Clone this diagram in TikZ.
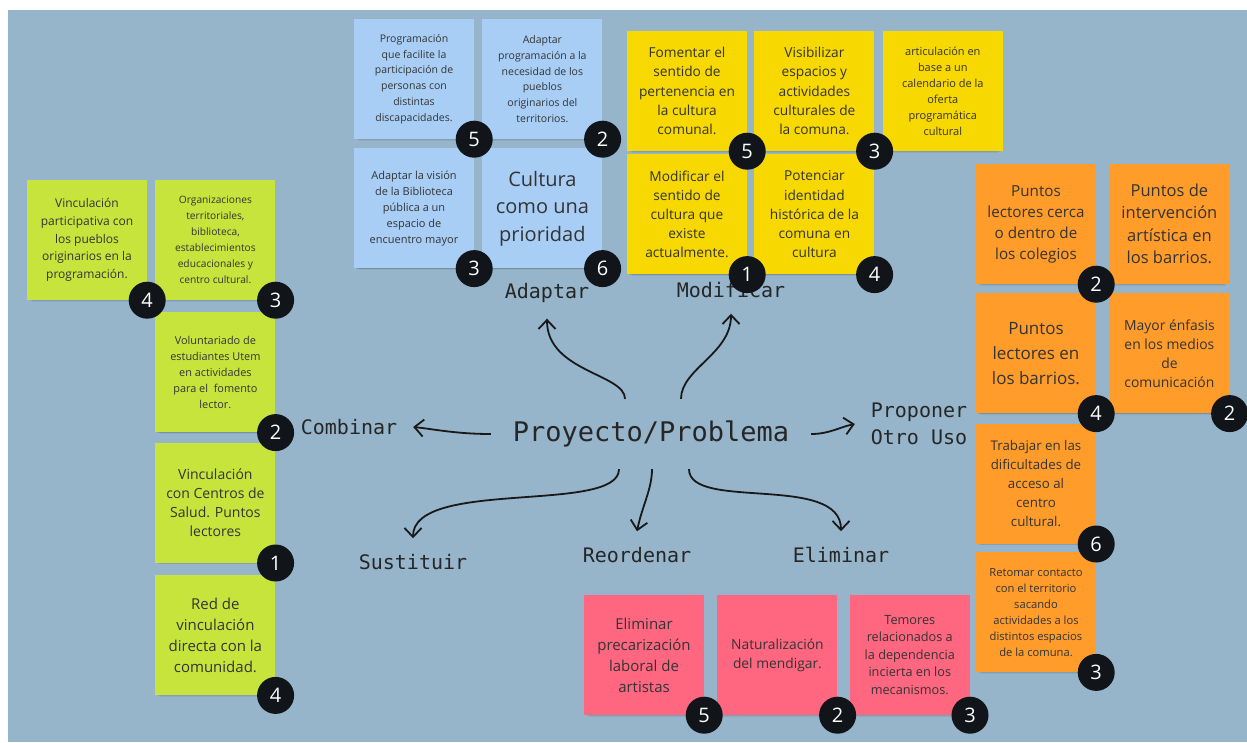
\documentclass[tikz,border=0pt]{standalone}
\usepackage{fontspec}
\setmainfont{Open Sans}
\newfontfamily\monofont{DejaVu Sans Mono}
\usepackage{xcolor}
\usepackage{tikz}
\usetikzlibrary{positioning, arrows.meta, shadows}
\definecolor{BoardBlue}{RGB}{150,181,202}
\definecolor{NoteBlue}{RGB}{168,206,246}
\definecolor{NoteYellow}{RGB}{247,216,0}
\definecolor{NoteGreen}{RGB}{199,228,60}
\definecolor{NoteOrange}{RGB}{255,156,42}
\definecolor{NotePink}{RGB}{255,102,128}
\definecolor{NoteText}{RGB}{52,52,52}
\definecolor{BadgeBlack}{RGB}{17,20,24}
\newcommand{\fsz}[2]{\fontsize{#1}{#2}\selectfont}
\tikzset{
    note/.style={
        minimum width=120pt, minimum height=120pt, inner sep=2pt, align=center, text=NoteText,
        drop shadow={shadow xshift=0pt, shadow yshift=-2pt, shadow scale=0.97, opacity=0.08, fill=black},
        drop shadow={shadow xshift=0pt, shadow yshift=-4pt, shadow scale=0.95, opacity=0.07, fill=black},
        drop shadow={shadow xshift=0pt, shadow yshift=-7pt, shadow scale=0.92, opacity=0.06, fill=black}
    },
    badge/.style={
        circle, fill=BadgeBlack, text=white, minimum size=37pt, inner sep=0pt, font=\fsz{20}{20}
    },
    verb/.style={
        font=\monofont\fsz{20}{27}, text=black!85, inner sep=0pt, outer sep=16pt, align=left
    },
    ptr/.style={
        -{Straight Barb[length=9pt, width=17pt]}, line width=1.8pt, black!90
    }
}

\begin{document}
\begin{tikzpicture}[x=1pt, y=-1pt]
    \useasboundingbox (0,0) rectangle (1247,742);
    \fill[white] (0,0) rectangle (1247,742);
    \fill[BoardBlue] (8,10) rectangle (1247,742);

    % adaptar
    \node[note, fill=NoteBlue, font=\fsz{10.5}{15.8}] (b1) at (414,79) {Programación\\que facilite la\\participación de\\personas con\\distintas\\discapacidades.};
    \node[note, fill=NoteBlue, font=\fsz{10.5}{15.8}, right=8pt of b1] (b2) {Adaptar\\programación a la\\necesidad de los\\pueblos\\originarios del\\territorios.};
    \node[note, fill=NoteBlue, font=\fsz{11}{16}, below=9pt of b1] (b3) {Adaptar la visión\\de la Biblioteca\\pública a un\\espacio de\\encuentro mayor};
    \node[note, fill=NoteBlue, font=\fsz{20}{27.5}, right=8pt of b3] (b4) {Cultura\\como una\\prioridad};

    % modificar
    \node[note, fill=NoteYellow, font=\fsz{13.7}{19.2}] (y1) at (687,91) {Fomentar el\\sentido de\\pertenencia en\\la cultura\\comunal.};
    \node[note, fill=NoteYellow, font=\fsz{13.7}{19.2}, right=7pt of y1] (y2) {Visibilizar\\espacios y\\actividades\\culturales de\\la comuna.};
    \node[note, fill=NoteYellow, font=\fsz{11}{16}, right=8pt of y2] (y3) {articulación en\\base a un\\calendario de la\\oferta\\programática\\cultural};
    \node[note, fill=NoteYellow, font=\fsz{13.7}{19.2}, below=3pt of y1] (y4) {Modificar el\\sentido de\\cultura que\\existe\\actualmente.};
    \node[note, fill=NoteYellow, font=\fsz{13.7}{19.2}, right=7pt of y4] (y5) {Potenciar\\identidad\\histórica de la\\comuna en\\cultura};

    % combinar
    \node[note, fill=NoteGreen, font=\fsz{12}{17.7}] (g1) at (87,240) {Vinculación\\participativa con\\los pueblos\\originarios en la\\programación.};
    \node[note, fill=NoteGreen, font=\fsz{10.2}{16}, right=8pt of g1] (g2) {Organizaciones\\territoriales,\\biblioteca,\\establecimientos\\educacionales y\\centro cultural.};
    \node[note, fill=NoteGreen, font=\fsz{10.9}{16}, below=12pt of g2] (g3) {Voluntariado de\\estudiantes Utem\\en actividades\\para el\ \ fomento\\lector.};
    \node[note, fill=NoteGreen, font=\fsz{14}{19}, below=10pt of g3] (g4) {Vinculación\\con Centros de\\Salud. Puntos\\lectores};
    \node[note, fill=NoteGreen, font=\fsz{15}{21}, below=12pt of g4] (g5) {Red de\\vinculación\\directa con la\\comunidad.};

    % proponer otro uso
    \node[note, fill=NoteOrange, font=\fsz{15.2}{21}] (o1) at (1036,224) {Puntos\\lectores cerca\\o dentro de\\los colegios};
    \node[note, fill=NoteOrange, font=\fsz{16.5}{22.5}, right=13pt of o1] (o2) {Puntos de\\intervención\\artística en\\los barrios.};
    \node[note, fill=NoteOrange, font=\fsz{17}{25}, below=9pt of o1] (o3) {Puntos\\lectores en\\los barrios.};
    \node[note, fill=NoteOrange, font=\fsz{13.9}{19}, right=13pt of o3] (o4) {Mayor énfasis\\en los medios\\de\\comunicación};
    \node[note, fill=NoteOrange, font=\fsz{13.3}{19}, below=10pt of o3] (o5) {Trabajar en las\\dificultades de\\acceso al\\centro\\cultural.};
    \node[note, fill=NoteOrange, font=\fsz{11.2}{16}, below=8pt of o5] (o6) {Retomar contacto\\con el territorio\\sacando\\actividades a los\\distintos espacios\\de la comuna.};

    % eliminar
    \node[note, fill=NotePink, font=\fsz{15}{21}] (p1) at (644,655) {Eliminar\\precarización\\laboral de\\artistas};
    \node[note, fill=NotePink, font=\fsz{13.8}{19}, right=13pt of p1] (p2) {Naturalización\\del mendigar.};
    \node[note, fill=NotePink, font=\fsz{12.7}{17.5}, right=12pt of p2] (p3) {Temores\\relacionados a\\la dependencia\\incierta en los\\mecanismos.};

    \node[font=\monofont\fsz{27}{27}, text=black!85, inner sep=0pt, outer sep=22pt] (proj) at (651,434) {Proyecto/Problema};
    \node[verb] (adapt) at (547,293) {Adaptar};
    \node[verb] (modif) at (731,290) {Modificar};
    \node[verb] (comb) at (349,427) {Combinar};
    \node[verb] (prop) at (919,424) {Proponer\\Otro Uso};
    \node[verb] (sust) at (413,562) {Sustituir};
    \node[verb] (reord) at (637,555) {Reordenar};
    \node[verb] (elim) at (841,555) {Eliminar};

    \draw[ptr] ([xshift=-26pt]proj.north) .. controls +(0,-25) and +(0,53) .. (adapt.south);
    \draw[ptr] ([xshift=30pt]proj.north) .. controls +(0,-30) and +(0,40) .. (modif.south);
    \draw[ptr] (proj.west) .. controls +(-35,0) and +(20,2) .. (comb.east);
    \draw[ptr] (proj.east) .. controls +(18,0) and +(-15,3) .. (prop.west);
    \draw[ptr] ([xshift=-32pt]proj.south) .. controls +(0,45) and +(0,-60) .. (sust.north);
    \draw[ptr] ([xshift=1pt]proj.south) .. controls +(0,20) and +(5,-25) .. (reord.north);
    \draw[ptr] ([xshift=38pt]proj.south) .. controls +(0,42) and +(0,-58) .. (elim.north);

    \node[badge] (b1n) at (b1.south east) {5};
    \node[badge] (b2n) at (b2.south east) {2};
    \node[badge] (b3n) at (b3.south east) {3};
    \node[badge] (b4n) at (b4.south east) {6};
    \node[badge] (y1n) at (y1.south east) {5};
    \node[badge] (y2n) at (y2.south east) {3};
    \node[badge] (y4n) at (y4.south east) {1};
    \node[badge] (y5n) at (y5.south east) {4};
    \node[badge] (g1n) at (g1.south east) {4};
    \node[badge] (g2n) at (g2.south east) {3};
    \node[badge] (g3n) at (g3.south east) {2};
    \node[badge] (g4n) at (g4.south east) {1};
    \node[badge] (g5n) at (g5.south east) {4};
    \node[badge] (o1n) at (o1.south east) {2};
    \node[badge] (o3n) at (o3.south east) {4};
    \node[badge] (o4n) at (o4.south east) {2};
    \node[badge] (o5n) at (o5.south east) {6};
    \node[badge] (o6n) at (o6.south east) {3};
    \node[badge] (p1n) at (p1.south east) {5};
    \node[badge] (p2n) at (p2.south east) {2};
    \node[badge] (p3n) at (p3.south east) {3};
\end{tikzpicture}
\end{document}
